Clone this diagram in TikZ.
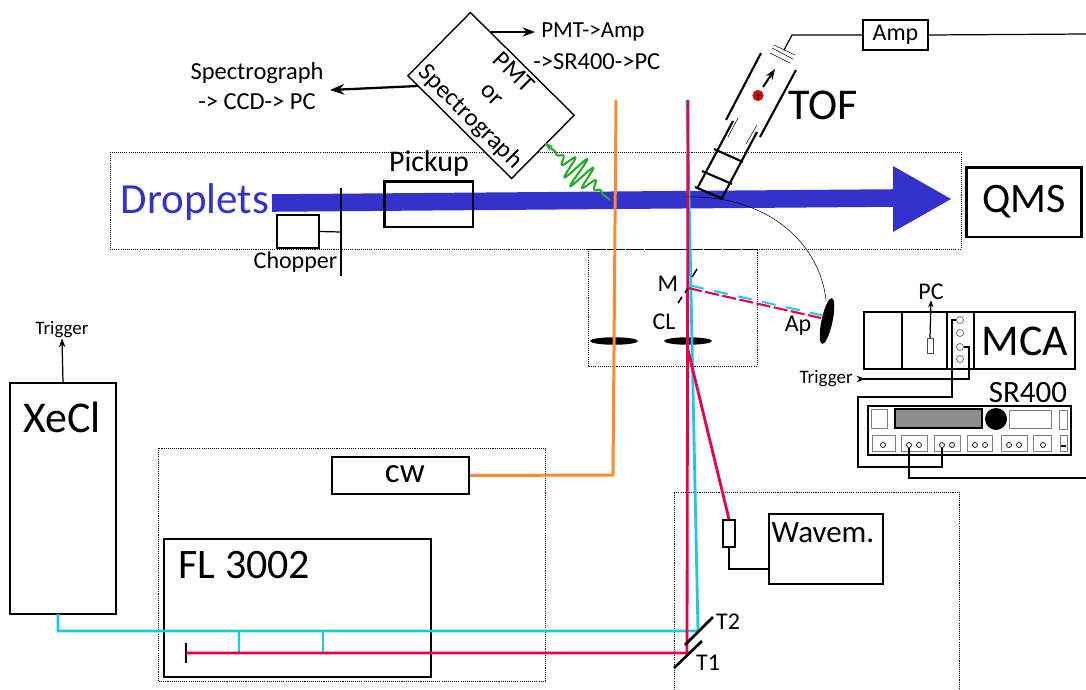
\documentclass[tikz,border=0pt]{standalone}
\usepackage{fontspec}
\setmainfont{Carlito}
\usetikzlibrary{arrows.meta}
\definecolor{beamblue}{HTML}{3333CC}
\definecolor{uvcyan}{HTML}{1CC8E4}
\definecolor{dyered}{HTML}{E6004C}
\definecolor{cworange}{HTML}{FF8A33}
\definecolor{photongreen}{HTML}{2CA82C}
\newcommand{\px}[1]{\fontsize{\fpeval{#1*0.569}}{\fpeval{#1*0.66}}\selectfont}
\tikzset{
	chamber/.style={draw, line width=0.55pt, dash pattern=on 0.6pt off 0.6pt},
	box/.style={draw, line width=0.9pt, minimum width=0pt, inner sep=0pt},
	wire/.style={line width=0.7pt},
	mirror/.style={line width=1.5pt},
	uvbeam/.style={uvcyan, line width=1.6pt},
	redbeam/.style={dyered, line width=1.6pt},
	cwbeam/.style={cworange, line width=1.7pt},
	knob/.style={circle, draw=black!60, fill=white, inner sep=0pt, minimum size=0.14cm, line width=0.4pt},
	panel/.style={draw=black!50, fill=white, line width=0.5pt},
	lens/.style={ellipse, fill=black, inner sep=0pt}
}
\usetikzlibrary{shapes.geometric}
\begin{document}
\begin{tikzpicture}[x=0.02cm, y=-0.02cm]
	\useasboundingbox (0,0) rectangle (1086,690);
	\tikzstyle{every node}=[align=center, inner sep=0pt, text=black]
	% dotted enclosures
	\draw [chamber] (110,152) rectangle (961,249);
	\draw [chamber] (588,249) rectangle (757,366);
	\draw [chamber] (158,448) rectangle (545,681);
	\draw [chamber] (674,690) -- (674,492) -- (959,492) -- (959,690);
	% droplet beam
	\coordinate (beamstart) at (272,203);
	\coordinate (beamend) at (895,198);
	\coordinate (headtop) at (893,166);
	\coordinate (headtip) at (951,199);
	\coordinate (headbot) at (893,232);
	\draw [beamblue, line width=10pt] (beamstart) -- (beamend);
	\fill [beamblue] (headtop) -- (headtip) -- (headbot) -- cycle;
	\node [text=beamblue, font=\px{43}] (droplets) at (195,202) {Droplets};
	\node [draw, line width=1.7pt, minimum width=2.3cm, minimum height=1.4cm] (qms) at (1024,202) {\px{42}QMS};
	% pickup and chopper
	\node [draw, line width=1.7pt, minimum width=1.78cm, minimum height=0.92cm] (pickupbox) at (428.5,204) {};
	\node [font=\px{30}] (pickup) at (429,164) {Pickup};
	\node [box, minimum width=0.84cm, minimum height=0.66cm] (chopperbox) at (298,231.5) {};
	\coordinate (wheeltop) at (341,188);
	\coordinate (wheelbot) at (341,276);
	\coordinate (wheelhub) at (341,232);
	\draw [line width=0.9pt] (wheeltop) -- (wheelbot);
	\draw [wire] (chopperbox.east) -- (wheelhub);
	\node [font=\px{24}] (chopper) at (295.5,262) {Chopper};
	% detector head
	\node [draw, fill=white, line width=0.8pt, rotate=-44.7, minimum width=2.92cm, minimum height=1.78cm, font=\px{25}, text width=2.9cm] (detector) at (491,95.5) {PMT\\[1pt] or\\[1pt] Spectrograph};
	\coordinate (specout) at (418,86);
	\coordinate (specend) at (330,90);
	\coordinate (pmtout) at (491,32);
	\coordinate (pmtend) at (535,32);
	\draw [-{Stealth[length=8pt]}, line width=1.3pt] (specout) -- (specend);
	\draw [-{Stealth[length=7pt]}, line width=0.9pt] (pmtout) -- (pmtend);
	\node [font=\px{24.5}] (specpath) at (257,86) {Spectrograph\\[1pt] -> CCD-> PC};
	\node [font=\px{23}, anchor=west] (pmtpath) at (541,32) {PMT->Amp};
	\node [font=\px{24.5}, anchor=west] (srpath) at (533,62) {->SR400->PC};
	% fluorescence photon
	\draw [photongreen, line width=1.2pt, -{Stealth[length=5pt]}] plot[smooth, samples=240, domain=0:1, variable=\t]
		({610-65*\t+0.66*16*exp(-pow((\t-0.48)/0.2,2))*sin(3000*\t)}, {200-57*\t-0.75*16*exp(-pow((\t-0.48)/0.2,2))*sin(3000*\t)});
	% lens box
	\node [lens, minimum width=0.96cm, minimum height=0.15cm] (lensa) at (614,341) {};
	\node [lens, minimum width=0.96cm, minimum height=0.15cm] (lensb) at (688,341) {};
	\node [lens, rotate=78, minimum width=0.94cm, minimum height=0.22cm] (aperture) at (827,321) {};
	\node [font=\px{24}] (mlabel) at (668,284) {M};
	\node [font=\px{24}] (cllabel) at (664,322) {CL};
	\node [font=\px{24}] (aplabel) at (798,326) {Ap};
	% lasers
	\node [box, minimum width=2.12cm, minimum height=4.62cm] (xecl) at (63,498.5) {};
	\node [font=\px{44}] (xecllabel) at (62,417) {XeCl};
	\node [font=\px{19}] (trigtop) at (62,330) {Trigger};
	\draw [-{Stealth[length=5pt]}, wire] (xecl.north) -- (trigtop.south);
	\node [box, minimum width=2.74cm, minimum height=0.74cm] (cw) at (400.5,475.5) {\raisebox{2pt}{\px{35}\hspace*{5pt}cw}};
	\node [box, minimum width=5.34cm, minimum height=2.76cm] (fl) at (297.5,608) {};
	\node [font=\px{42}] (fllabel) at (244.5,565) {FL 3002};
	\coordinate (dyeslit) at (186,653);
	\draw [line width=1.2pt] (186,643) -- (186,663);
	% beams
	\coordinate (cwtop) at (616,100);
	\coordinate (cwturn) at (613,475);
	\draw [cwbeam] (cwtop) -- (cwturn) -- (cw.east);
	\coordinate (xeclout) at (58,614);
	\coordinate (xeclturn) at (58,631);
	\coordinate (ttwo) at (698,631);
	\coordinate (uvtop) at (687,100);
	\coordinate (branchatop) at (239,631);
	\coordinate (branchabot) at (239,653);
	\coordinate (branchbtop) at (323,631);
	\coordinate (branchbbot) at (323,653);
	\draw [uvbeam] (xeclout) -- (xeclturn) -- (ttwo) -- (uvtop);
	\draw [uvbeam, line width=1.1pt] (branchatop) -- (branchabot);
	\draw [uvbeam, line width=1.1pt] (branchbtop) -- (branchbbot);
	\coordinate (tone) at (687,653);
	\coordinate (redtop) at (688,100);
	\coordinate (redsplit) at (688,350);
	\node [box, minimum width=0.24cm, minimum height=0.54cm] (wavesensor) at (729,533.5) {};
	\draw [redbeam] (dyeslit) -- (tone) -- (redtop);
	\draw [redbeam] (redsplit) -- (wavesensor.north);
	\coordinate (mirrorhit) at (688,288);
	\coordinate (aphitred) at (821,318);
	\coordinate (mirrorhitb) at (690,285.5);
	\coordinate (aphituv) at (823,315.5);
	\draw [uvbeam, line width=1.1pt, dash pattern=on 8pt off 6pt] (mirrorhitb) -- (aphituv);
	\draw [redbeam, line width=1.2pt, dash pattern=on 8pt off 2pt] (mirrorhit) -- (aphitred);
	% turning mirrors
	\draw [line width=0.9pt] (697,269) -- (692,277) (688,288) -- (685,293) (682,297) -- (678,303);
	\coordinate (toneb) at (674,668);
	\coordinate (tonet) at (702,641);
	\coordinate (ttwob) at (685,645);
	\coordinate (ttwot) at (713,617);
	\draw [mirror] (toneb) -- (tonet);
	\draw [mirror] (ttwob) -- (ttwot);
	\node [font=\px{24}] (tonelabel) at (708,663) {T1};
	\node [font=\px{24}] (ttwolabel) at (728,622) {T2};
	% wavemeter
	\node [box, minimum width=2.28cm, minimum height=1.4cm] (wavem) at (826,549) {};
	\node [font=\px{31}] (wavemlabel) at (823,533) {Wavem.};
	\coordinate (wavecorner) at (729,569);
	\draw [wire] (wavesensor.south) -- (wavecorner) -- (wavem.west |- wavecorner);
	% time of flight
	\draw [line width=1.2pt] (761,53) -- (726,120);
	\draw [line width=1.2pt] (796,70) -- (760,137);
	\draw [line width=1.2pt] (733,121) -- (698,187);
	\draw [line width=1.2pt] (757,132) -- (722,198);
	\draw [line width=0.3pt] (738,118) -- (728,137);
	\draw [line width=0.3pt] (757,125) -- (746,144);
	\draw [line width=1.2pt] (714,149) -- (743,162);
	\draw [line width=1.2pt] (702,171) -- (732,184);
	\draw [line width=1.2pt] (695,187) -- (723,199);
	\draw [line width=0.3pt] (774,45) -- (795,55);
	\draw [line width=0.3pt] (772,48) -- (793,59);
	\draw [line width=0.3pt] (770,53) -- (790,63);
	\node [circle, fill=red, draw=red!70!black, line width=0.3pt, minimum size=0.21cm] (ion) at (758,95.5) {};
	\draw [line width=0.7pt] (755,95.5) -- (761,95.5) (758,92.5) -- (758,98.5);
	\coordinate (iona) at (763,87);
	\coordinate (ionb) at (775,69);
	\draw [line width=1.1pt, -{Stealth[length=6pt]}] (iona) -- (ionb);
	\node [font=\px{44}] (toflabel) at (823,105) {TOF};
	\node [box, line width=0.7pt, minimum width=1.3cm, minimum height=0.6cm] (amp) at (895.5,35) {\px{24}Amp};
	\coordinate (tofwire) at (784,50);
	\coordinate (tofbend) at (792,35);
	\coordinate (ampright) at (1086,34);
	\draw [wire] (tofwire) -- (tofbend) -- (amp.west);
	\draw [wire] (amp.east) -- (ampright);
	\coordinate (orbita) at (686,197);
	\coordinate (orbitb) at (826,300);
	\draw [line width=0.3pt] (orbita) .. controls (770,195) and (820,245) .. (orbitb);
	% MCA crate
	\node [box, line width=0.8pt, minimum width=4.22cm, minimum height=1.14cm] (mca) at (969.5,340.5) {};
	\draw [line width=0.8pt] (902,312) -- (902,369) (947,312) -- (947,369) (974,312) -- (974,369);
	\node [font=\px{44}] (mcalabel) at (1025,341) {MCA};
	\node [draw=black!70, line width=0.5pt, minimum width=0.12cm, minimum height=0.3cm] (pcsocket) at (930,346) {};
	\node [font=\px{24}] (pclabel) at (931,292) {PC};
	\draw [wire, -{Stealth[length=4pt]}] (pcsocket.north) -- (pclabel.south);
	\node [knob] (sockone) at (960,320) {};
	\node [knob] (socktwo) at (960,333) {};
	\node [knob] (sockthree) at (960,347) {};
	\node [knob] (sockfour) at (960,359) {};
	\node [font=\px{19}, anchor=east] (trigside) at (853,379) {Trigger};
	\coordinate (trigcorner) at (969,380);
	\coordinate (sockcorner) at (969,347);
	\draw [wire, {Stealth[length=5pt, reversed]}-, shorten <=2pt] (trigside.east) -- (trigside.east -| trigcorner) -- (sockcorner) -- (sockthree);
	% SR400
	\node [font=\px{31}] (srlabel) at (1028,393) {SR400};
	\node [box, line width=0.8pt, minimum width=4.06cm, minimum height=0.98cm] (sr) at (969.5,430.5) {};
	\draw [panel] (871,409) rectangle (887,428);
	\draw [fill=black!45, line width=0.7pt] (895,409) rectangle (982,428);
	\node [circle, fill=black, minimum size=0.44cm] (srknob) at (996,419) {};
	\draw [panel] (1009,410) rectangle (1051,428);
	\draw [panel] (1059,410) rectangle (1067,429);
	\foreach \a/\b in {872/895, 901/927, 934/960, 967/992, 1001/1027, 1033/1051, 1060/1067}
		\draw [panel] (\a,435) rectangle (\b,451);
	\foreach \c/\n in {883/a, 909/b, 919/c, 942/d, 952/e, 975/f, 985/g, 1009/h, 1019/i, 1043/j}
		\node [circle, draw=black!80, line width=0.5pt, minimum size=0.1cm, fill=white] (btn\n) at (\c,445) {};
	\draw [line width=0.8pt] (1061,446) -- (1066,446);
	\coordinate (srcorner) at (858,397);
	\coordinate (sockbend) at (952,320);
	\coordinate (srbottom) at (858,467);
	\coordinate (btncorner) at (942,467);
	\draw [wire] (sockone) -- (sockbend) -- (952,397) -- (srcorner) -- (srbottom) -- (btncorner) -- (btnd);
	\coordinate (outcorner) at (908,478);
	\coordinate (outright) at (1086,478);
	\draw [wire] (btnb) -- (btnb |- outcorner) -- (outright);
\end{tikzpicture}
\end{document}
